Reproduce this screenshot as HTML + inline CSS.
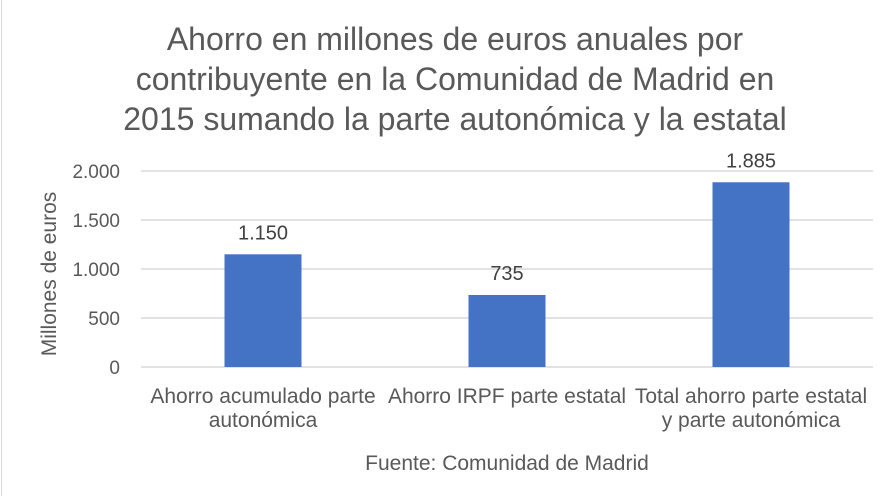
<!DOCTYPE html>
<html><head><meta charset="utf-8"><style>
html,body{margin:0;padding:0;background:#fff;}
svg{display:block;font-family:"Liberation Sans",sans-serif;}
</style></head><body>
<svg id="chart" width="894" height="496" viewBox="0 0 894 496">
<rect x="1.5" y="-2" width="900" height="500" fill="#fff" stroke="#d9d9d9"/>
<g fill="#595959" font-size="32" text-anchor="middle">
<text x="455" y="50">Ahorro en millones de euros anuales por</text>
<text x="455" y="90">contribuyente en la Comunidad de Madrid en</text>
<text x="455" y="130">2015 sumando la parte autonómica y la estatal</text>
</g>
<g id="grid"></g><g id="bars"></g><g id="labels"></g>
<text transform="translate(56,274) rotate(-90)" text-anchor="middle" font-size="21" fill="#595959">Millones de euros</text>
<text x="507" y="470" text-anchor="middle" font-size="21" fill="#595959">Fuente: Comunidad de Madrid</text>
</svg>
<script>
const categories = [["Ahorro acumulado parte","autonómica"],["Ahorro IRPF parte estatal"],["Total ahorro parte estatal","y parte autonómica"]];
const values = [1150, 735, 1885];
const valueLabels = ["1.150","735","1.885"];
const ticks = [0,500,1000,1500,2000];
const tickLabels = ["0","500","1.000","1.500","2.000"];
const NS="http://www.w3.org/2000/svg";
const x0=141,x1=873,yTop=171,yBot=367,yMax=2000;
const y=v=>yBot-(v/yMax)*(yBot-yTop);
const band=(x1-x0)/categories.length;
const cx=i=>x0+band*(i+0.5);
function mk(t,a){const e=document.createElementNS(NS,t);for(const k in a)e.setAttribute(k,a[k]);return e;}
const grid=document.getElementById('grid'),bars=document.getElementById('bars'),labels=document.getElementById('labels');
ticks.forEach((t,i)=>{
  const l=mk('line',{x1:x0,x2:x1,y1:y(t),y2:y(t),stroke:'#d9d9d9','stroke-width':1.5});
  
  
  grid.appendChild(l);
  const tx=mk('text',{x:120,y:y(t)+7,'text-anchor':'end','font-size':19,fill:'#595959'});
  tx.textContent=tickLabels[i];
  
  
  labels.appendChild(tx);
});
const bw=77;
values.forEach((v,i)=>{
  const r=mk('rect',{x:cx(i)-bw/2,y:y(v),width:bw,height:yBot-y(v),fill:'#4472c4'});
  
  
  bars.appendChild(r);
  const dl=mk('text',{x:cx(i),y:y(v)-15,'text-anchor':'middle','font-size':20,fill:'#404040'});
  dl.textContent=valueLabels[i];
  
  
  labels.appendChild(dl);
  categories[i].forEach((line,j)=>{
    const c=mk('text',{x:cx(i),y:403+j*24,'text-anchor':'middle','font-size':21,fill:'#595959'});
    c.textContent=line;
    
    
    labels.appendChild(c);
  });
});
</script>
</body></html>
